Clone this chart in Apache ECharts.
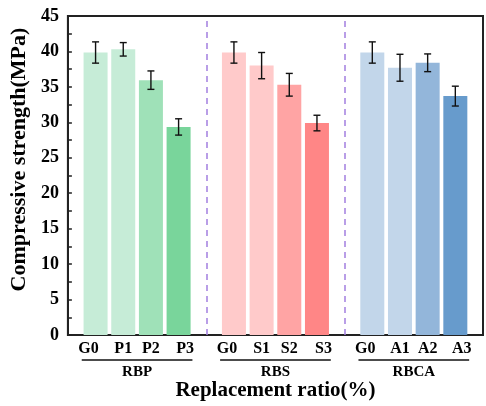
<!DOCTYPE html>
<html><head><meta charset="utf-8">
<script src="https://cdn.jsdelivr.net/npm/echarts@6/dist/echarts.min.js"></script>
<style>html,body{margin:0;padding:0;background:#fff}#c{width:486px;height:406px}</style>
</head><body><div id="c"></div>
<script>
// ---- data ----
const slotLabels = ['', 'G0','P1','P2','P3','', 'G0','S1','S2','S3','', 'G0','A1','A2','A3',''];
const barSlots  = [1,2,3,4, 6,7,8,9, 11,12,13,14];
const strength  = [39.85,40.3,35.95,29.35, 39.85,38.0,35.3,29.9, 39.85,37.7,38.4,33.7];
const errors    = [1.5,0.95,1.3,1.15, 1.5,1.85,1.6,1.1, 1.5,1.9,1.25,1.4];
const groupNames = ['RBP','RBS','RBCA'];
const groupStart = [1,6,11];
const groupEnd   = [4,9,14];
const dividers   = [5,10];
const yTicks = [0,5,10,15,20,25,30,35,40,45];
// ---- style ----
const colors = ['#c6ecd7','#c6ecd7','#9fe1b8','#79d59b',
                '#ffcaca','#ffcaca','#ffa4a4','#ff8686',
                '#c2d6ea','#c2d6ea','#93b6da','#679bcc'];
const FONT = '"Liberation Serif","Times New Roman",serif';

const chart = echarts.init(document.getElementById('c'));
const firstSlots = groupStart, lastSlots = groupEnd;
chart.setOption({
  animation:false,
  backgroundColor:'#fff',
  grid:{left:62.5, top:16, width:432.75, height:319.5, show:true, borderColor:'#222', borderWidth:2},
  xAxis:{type:'value', min:0, max:15, interval:1,
    name:'Replacement ratio(%)', nameLocation:'middle', nameGap:45,
    nameTextStyle:{fontFamily:FONT, fontWeight:'bold', fontSize:21, color:'#000'},
    axisLine:{show:true, lineStyle:{color:'#222', width:2}},
    axisTick:{show:false}, splitLine:{show:false},
    axisLabel:{margin:6, showMinLabel:true, showMaxLabel:true,
      fontFamily:FONT, fontWeight:'bold', fontSize:16, color:'#000',
      formatter:function(v){
        const t = slotLabels[v] || '';
        if(!t) return '';
        if(firstSlots.indexOf(v)>=0) return '{l|'+t+'}';
        if(lastSlots.indexOf(v)>=0) return '{r|'+t+'}';
        return t;
      },
      rich:{
        l:{fontFamily:FONT, fontWeight:'bold', fontSize:16, color:'#000', padding:[0,14,0,0]},
        r:{fontFamily:FONT, fontWeight:'bold', fontSize:16, color:'#000', padding:[0,0,0,13]}
      }}
  },
  yAxis:{type:'value', min:yTicks[0], max:yTicks[yTicks.length-1], interval:5,
    name:'Compressive strength(MPa)', nameLocation:'middle', nameGap:36,
    nameTextStyle:{fontFamily:FONT, fontWeight:'bold', fontSize:22, color:'#000', padding:[0,0,0,32]},
    axisLine:{show:true, lineStyle:{color:'#222', width:2}},
    axisTick:{show:true, inside:true, length:4, lineStyle:{color:'#222', width:1.5}},
    minorTick:{show:true, splitNumber:2, length:4, lineStyle:{color:'#222', width:1.5}},
    splitLine:{show:false},
    axisLabel:{margin:9, fontFamily:FONT, fontWeight:'bold', fontSize:18, color:'#000'}
  },
  series:[
    {type:'bar', barWidth:24,
     data: barSlots.map((s,i)=>({value:[s, strength[i]], itemStyle:{color:colors[i]}})),
     markLine:{silent:true, symbol:['none','none'], label:{show:false},
       lineStyle:{color:'#a27fe0', type:[6,5], width:1.5},
       data: dividers.map(d=>({xAxis:d}))}
    },
    {type:'custom', clip:false, z:5,
     data: barSlots.map((s,i)=>[s, strength[i], errors[i]]),
     renderItem:function(params, api){
       const x = api.value(0), v = api.value(1), e = api.value(2);
       const hi = api.coord([x, v+e]), lo = api.coord([x, v-e]);
       const st = {stroke:'#111', lineWidth:1.4};
       const w = 3.5;
       return {type:'group', children:[
         {type:'line', shape:{x1:hi[0], y1:hi[1], x2:lo[0], y2:lo[1]}, style:st},
         {type:'line', shape:{x1:hi[0]-w, y1:hi[1], x2:hi[0]+w, y2:hi[1]}, style:st},
         {type:'line', shape:{x1:lo[0]-w, y1:lo[1], x2:lo[0]+w, y2:lo[1]}, style:st}
       ]};
     }
    },
    {type:'custom', clip:false, z:5, silent:true,
     data: groupNames.map((g,i)=>[groupStart[i], groupEnd[i], i]),
     renderItem:function(params, api){
       const s = api.value(0), e = api.value(1), i = api.value(2);
       const a0 = api.coord([s-1, 0]), a1 = api.coord([s, 0]);
       const b0 = api.coord([e, 0]), b1 = api.coord([e+1, 0]);
       const xl = (a0[0]+a1[0])/2, xr = (b0[0]+b1[0])/2, y = a1[1];
       return {type:'group', children:[
         {type:'line', shape:{x1:xl, y1:y+25, x2:xr, y2:y+25}, style:{stroke:'#111', lineWidth:1.3}},
         {type:'text', style:{text:groupNames[i], x:(xl+xr)/2, y:y+37, align:'center', verticalAlign:'middle',
           font:'bold 15px '+FONT, fill:'#000'}}
       ]};
     }
    }
  ]
});
</script></body></html>
